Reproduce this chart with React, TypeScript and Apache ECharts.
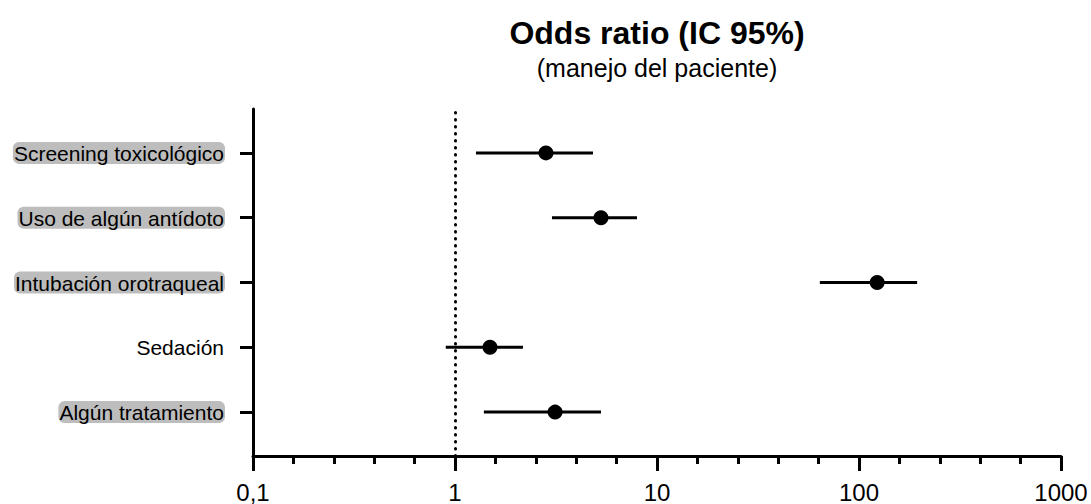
import React, { useEffect, useRef } from "react";
import * as echarts from "echarts";

const categories = [
  "Screening toxicológico",
  "Uso de algún antídoto",
  "Intubación orotraqueal",
  "Sedación",
  "Algún tratamiento",
];
const highlighted = [true, true, true, false, true];
const oddsRatio = [2.82, 5.28, 123, 1.49, 3.13];
const ciLow = [1.27, 3.02, 64, 0.9, 1.39];
const ciHigh = [4.82, 7.96, 194, 2.17, 5.28];
const xTickLabels: Record<string, string> = { "0.1": "0,1", "1": "1", "10": "10", "100": "100", "1000": "1000" };

const FONT = "Liberation Sans, Arial, Helvetica, sans-serif";

export default function App() {
  const ref = useRef<HTMLDivElement>(null);
  useEffect(() => {
    if (!ref.current) return;
    const chart = echarts.init(ref.current, undefined, { renderer: "svg" });
    const n = categories.length;
    const yOf = (i: number) => n - i;
    const pts = oddsRatio.map((v, i) => [v, yOf(i)]);
    const bars = categories.map((_, i) => [ciLow[i], ciHigh[i], yOf(i)]);
    const yTicks = categories.map((_, i) => yOf(i));

    chart.setOption({
      animation: false,
      textStyle: { fontFamily: FONT },
      graphic: [
        {
          type: "text",
          x: 657,
          y: 33,
          style: {
            text: "Odds ratio (IC 95%)",
            fontSize: 32,
            fontWeight: "bold",
            fontFamily: FONT,
            fill: "#000",
            align: "center",
            verticalAlign: "middle",
          },
        },
        {
          type: "text",
          x: 657,
          y: 68,
          style: {
            text: "(manejo del paciente)",
            fontSize: 25,
            fontFamily: FONT,
            fill: "#000",
            align: "center",
            verticalAlign: "middle",
          },
        },
      ],
      grid: { left: 253, right: 30, top: 109, bottom: 48, containLabel: false },
      xAxis: [
        {
          type: "log",
          min: 0.1,
          max: 1000,
          logBase: 10,
          position: "bottom",
          axisLine: { show: true, onZero: false, lineStyle: { color: "#000", width: 3 } },
          axisTick: { show: true, length: 15, lineStyle: { color: "#000", width: 3 } },
          minorTick: { show: false },
          splitLine: { show: false },
          axisLabel: {
            color: "#000",
            fontSize: 24,
            fontFamily: FONT,
            margin: 24,
            formatter: (v: number) => xTickLabels[String(v)] ?? String(v).replace(".", ","),
          },
        },
        {
          type: "value",
          min: -1,
          max: 3,
          interval: 1,
          position: "bottom",
          axisLine: { show: false, onZero: false },
          axisTick: { show: false },
          axisLabel: { show: false },
          splitLine: { show: false },
          minorTick: { show: true, splitNumber: 5, length: 8, lineStyle: { color: "#000", width: 3 } },
          minorSplitLine: { show: false },
        },
      ],
      yAxis: {
        type: "value",
        min: 0.323,
        max: 5.677,
        axisLine: { show: true, onZero: false, lineStyle: { color: "#000", width: 3 } },
        axisTick: {
          show: true,
          length: 13,
          customValues: yTicks,
          lineStyle: { color: "#000", width: 3 },
        },
        splitLine: { show: false },
        axisLabel: {
          show: true,
          customValues: yTicks,
          margin: 28,
          formatter: (v: number) => {
            const i = n - Math.round(v);
            const name = categories[i];
            if (name === undefined) return "";
            return highlighted[i] ? `{hl|${name}}` : `{pl|${name}}`;
          },
          rich: {
            hl: {
              fontSize: 21,
              fontFamily: FONT,
              color: "#000",
              backgroundColor: "#bdbdbd",
              borderRadius: 6,
              padding: [1, 1, 0, 1],
            },
            pl: { fontSize: 21, fontFamily: FONT, color: "#000", padding: [1, 1, 0, 1] },
          },
        },
      },
      series: [
        {
          type: "custom",
          xAxisIndex: 0,
          yAxisIndex: 0,
          data: bars,
          encode: { x: [0, 1], y: 2 },
          renderItem: (params: any, api: any) => {
            const a = api.coord([api.value(0), api.value(2)]);
            const b = api.coord([api.value(1), api.value(2)]);
            return {
              type: "line",
              shape: { x1: a[0], y1: a[1], x2: b[0], y2: b[1] },
              style: { stroke: "#000", lineWidth: 3 },
            };
          },
          markLine: {
            silent: true,
            symbol: "none",
            label: { show: false },
            lineStyle: { color: "#000", width: 3, type: [0.5, 6.5], cap: "round" },
            data: [{ xAxis: 1 }],
          },
        },
        {
          type: "scatter",
          xAxisIndex: 0,
          yAxisIndex: 0,
          data: pts,
          symbol: "circle",
          symbolSize: 15,
          itemStyle: { color: "#000", opacity: 1 },
        },
      ],
    });
    return () => chart.dispose();
  }, []);
  return (
    <div
      ref={ref}
      style={{ position: "absolute", left: 0, top: 0, width: 1091, height: 504, background: "#fff" }}
    />
  );
}
